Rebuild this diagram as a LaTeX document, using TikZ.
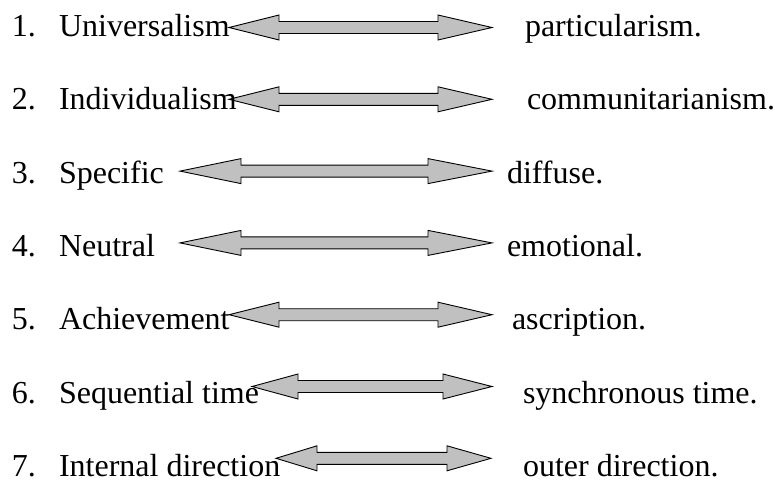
\documentclass[tikz,border=0pt]{standalone}
\usepackage{fontspec}
\setmainfont{Liberation Serif}
\tikzset{
  lbl/.style={anchor=base west, inner sep=0pt, outer sep=0pt, font=\fontsize{32}{34}\selectfont},
  dblarr/.style={draw=black, fill=arrgray, line width=0.9pt, line join=miter},
}
\definecolor{arrgray}{RGB}{192,192,192}
% #1 y-centre, #2 left tip, #3 left head base, #4 right head base, #5 right tip
\newcommand\mydblarrow[5]{%
  \draw[dblarr] (#2,#1) -- (#3,#1-12.5) -- (#3,#1-6) -- (#4,#1-6) -- (#4,#1-12.5)
    -- (#5,#1) -- (#4,#1+12.5) -- (#4,#1+6) -- (#3,#1+6) -- (#3,#1+12.5) -- cycle;}
\begin{document}
\begin{tikzpicture}[x=1pt,y=-1pt]
\useasboundingbox (0,0) rectangle (775,480);
% arrows
\mydblarrow{27.5}{229}{279}{438}{492}
\mydblarrow{99.3}{229}{279}{438}{492}
\mydblarrow{171.1}{180}{241}{428}{492}
\mydblarrow{242.9}{180}{241}{428}{492}
\mydblarrow{314.7}{229}{279}{438}{492}
\mydblarrow{386.5}{252}{298}{443}{492}
\mydblarrow{458.3}{276}{317}{447}{491}
% numbers
\node[lbl] (n1) at (12,36.5) {1.};
\node[lbl] (n2) at (12,109.8) {2.};
\node[lbl] (n3) at (12,183.1) {3.};
\node[lbl] (n4) at (12,256.4) {4.};
\node[lbl] (n5) at (12,329.7) {5.};
\node[lbl] (n6) at (12,403) {6.};
\node[lbl] (n7) at (12,476.3) {7.};
% left labels
\node[lbl] (l1) at (59,36.5) {Universalism};
\node[lbl] (l2) at (59,109.8) {Individualism};
\node[lbl] (l3) at (59,183.1) {Specific};
\node[lbl] (l4) at (59,256.4) {Neutral};
\node[lbl] (l5) at (59,329.7) {Achievement};
\node[lbl] (l6) at (59,403) {Sequential time};
\node[lbl] (l7) at (59,476.3) {Internal direction};
% right labels
\node[lbl] (r1) at (525,36.5) {particularism.};
\node[lbl] (r2) at (527,109.8) {communitarianism.};
\node[lbl] (r3) at (507,183.1) {diffuse.};
\node[lbl] (r4) at (507,256.4) {emotional.};
\node[lbl] (r5) at (512,329.7) {ascription.};
\node[lbl] (r6) at (523,403) {synchronous time.};
\node[lbl] (r7) at (523,476.3) {outer direction.};
\end{tikzpicture}
\end{document}
